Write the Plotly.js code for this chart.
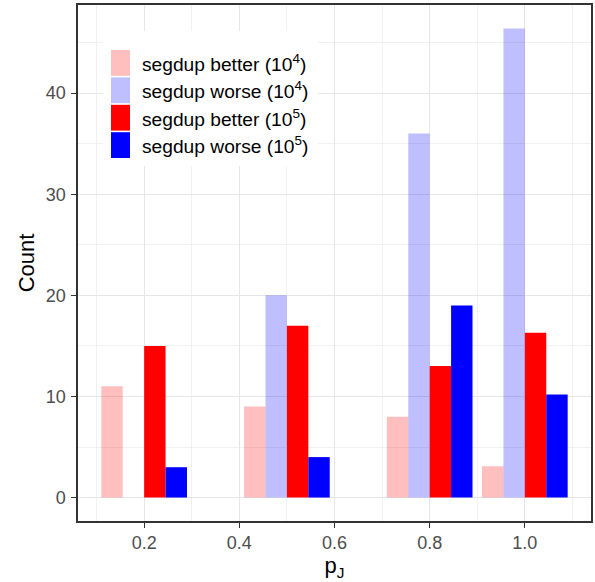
<!DOCTYPE html>
<html>
<head>
<meta charset="utf-8">
<script src="https://cdn.plot.ly/plotly-3.0.1.min.js"></script>
<style>html,body{margin:0;padding:0;background:#fff;}#chart{width:595px;height:582px;}</style>
</head>
<body>
<div id="chart"></div>
<script>
// Data
var pJ = [0.2, 0.5, 0.8, 1.0];
var seriesNames = ['segdup better (10<sup>4</sup>)', 'segdup worse (10<sup>4</sup>)', 'segdup better (10<sup>5</sup>)', 'segdup worse (10<sup>5</sup>)'];
var better1e4 = [11, 9, 8, 3.1];
var worse1e4 = [0, 20, 36, 46.4];
var better1e5 = [15, 17, 13, 16.3];
var worse1e5 = [3, 4, 19, 10.2];
var seriesColors = ['rgba(255,0,0,0.25)', 'rgba(0,0,255,0.25)', '#FF0000', '#0000FF'];
var keyColors = ['#FFBFBF', '#BFBFFF', '#FF0000', '#0000FF'];
var xTicks = [0.2, 0.4, 0.6, 0.8, 1.0];
var xTickText = ['0.2', '0.4', '0.6', '0.8', '1.0'];
var yTicks = [0, 10, 20, 30, 40];

var allSeries = [better1e4, worse1e4, better1e5, worse1e5];
var traces = allSeries.map(function (vals, i) {
  return {
    type: 'bar', x: pJ, y: vals, name: seriesNames[i],
    marker: {color: seriesColors[i], line: {width: 0}},
    showlegend: false, hoverinfo: 'x+y+name'
  };
});

// Custom legend (ggplot style keys) in paper coordinates
var PL = 78, PR = 591, PT = 5, PB = 521;
function px(x) { return (x - PL) / (PR - PL); }
function py(y) { return (PB - y) / (PB - PT); }
var shapes = [{
  type: 'rect', xref: 'paper', yref: 'paper',
  x0: px(103), x1: px(318), y0: py(166), y1: py(31),
  fillcolor: '#FFFFFF', line: {width: 0}, layer: 'above'
}];
var annotations = [];
for (var i = 0; i < 4; i++) {
  var keyTop = 50 + 27.4 * i, keyBot = keyTop + 25.8;
  shapes.push({
    type: 'rect', xref: 'paper', yref: 'paper',
    x0: px(111), x1: px(130), y0: py(keyBot), y1: py(keyTop),
    fillcolor: keyColors[i], line: {width: 0}, layer: 'above'
  });
  annotations.push({
    xref: 'paper', yref: 'paper', x: px(140), y: py((keyTop + keyBot) / 2),
    xanchor: 'left', yanchor: 'middle', showarrow: false,
    text: seriesNames[i], font: {family: 'Liberation Sans, Arial, sans-serif', size: 19.2, color: '#000000'}
  });
}

var layout = {
  width: 595, height: 582,
  margin: {l: PL, r: 595 - PR, t: PT, b: 582 - PB, pad: 0},
  paper_bgcolor: '#FFFFFF', plot_bgcolor: '#FFFFFF',
  barmode: 'group', bargap: 0.1, bargroupgap: 0,
  font: {family: 'Liberation Sans, Arial, sans-serif', color: '#000000'},
  xaxis: {
    range: [0.061, 1.139], tickmode: 'array', tickvals: xTicks, ticktext: xTickText,
    showgrid: true, gridcolor: '#E6E6E6', gridwidth: 1.2,
    minor: {tickvals: [0.1, 0.3, 0.5, 0.7, 0.9, 1.1], showgrid: true, gridcolor: '#EBEBEB', gridwidth: 0.7, ticks: ''},
    ticks: 'outside', ticklen: 5, tickwidth: 1.1, tickcolor: '#333333',
    tickfont: {size: 18, color: '#4D4D4D'},
    zeroline: false, showline: true, mirror: true, linecolor: '#333333', linewidth: 1.6,
    title: {text: 'p<sub>J</sub>', font: {size: 22, color: '#000000'}, standoff: 2},
    automargin: false
  },
  yaxis: {
    range: [-2.32, 48.72], tickmode: 'array', tickvals: yTicks,
    showgrid: true, gridcolor: '#E6E6E6', gridwidth: 1.2,
    minor: {tickvals: [5, 15, 25, 35, 45], showgrid: true, gridcolor: '#EBEBEB', gridwidth: 0.7, ticks: ''},
    ticks: 'outside', ticklen: 5, tickwidth: 1.1, tickcolor: '#333333',
    tickfont: {size: 18, color: '#4D4D4D'}, ticklabelstandoff: 2,
    zeroline: false, showline: true, mirror: true, linecolor: '#333333', linewidth: 1.6,
    title: {text: 'Count', font: {size: 22, color: '#000000'}, standoff: 5},
    automargin: false
  },
  shapes: shapes,
  annotations: annotations,
  showlegend: false
};

Plotly.newPlot('chart', traces, layout, {displayModeBar: false, staticPlot: true});
</script>
</body>
</html>
